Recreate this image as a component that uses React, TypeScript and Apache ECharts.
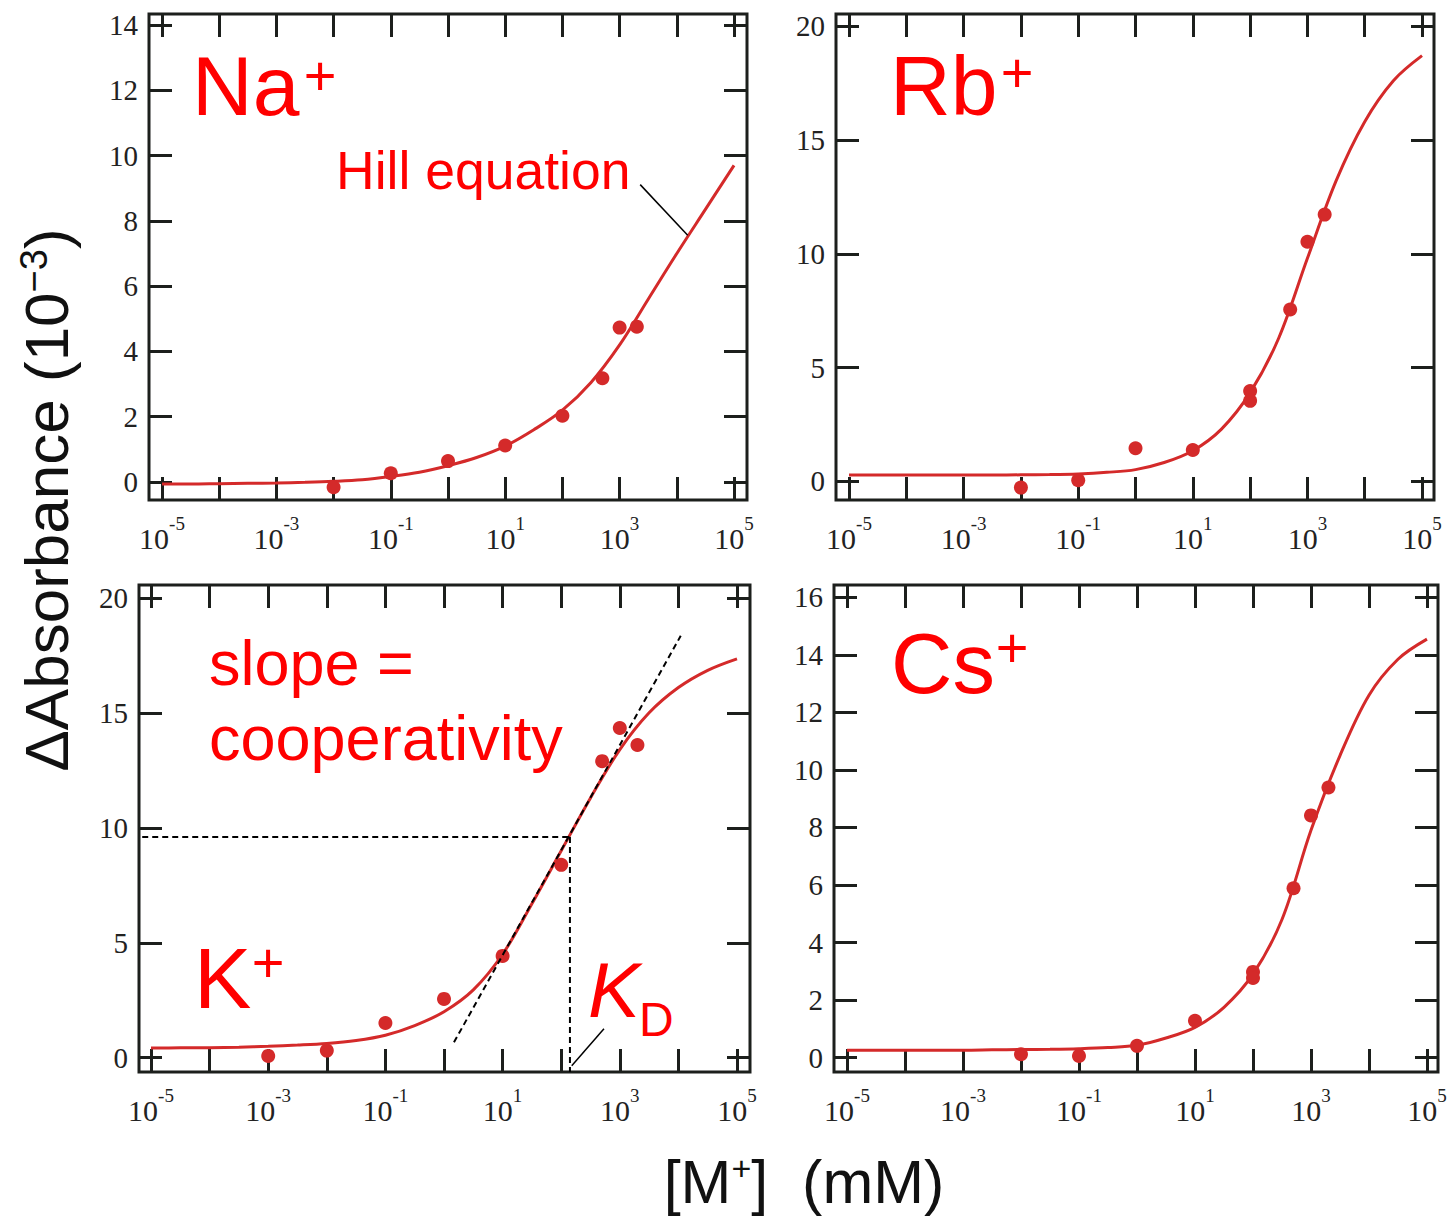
import React, { useEffect, useRef } from "react";
import * as echarts from "echarts";

// ---------- data (x values in mM; curve sampled at log10 positions) ----------
const CURVE_LOG_X = [-5, -4.5, -4, -3.5, -3, -2.5, -2, -1.5, -1, -0.5, 0, 0.5, 1, 1.5, 2, 2.5, 3, 3.5, 4, 4.5, 5];

const NA_CONC = [0.01, 0.1, 1, 10, 100, 500, 1000, 2000];
const NA_VALUES = [-0.16, 0.27, 0.64, 1.12, 2.03, 3.18, 4.73, 4.76];
const NA_CURVE = [-0.06, -0.06, -0.05, -0.04, -0.03, -0.01, 0.02, 0.07, 0.17, 0.3, 0.5, 0.75, 1.1, 1.6, 2.2, 3.05, 4.2, 5.6, 7.0, 8.35, 9.7];

const RB_CONC = [0.01, 0.1, 1, 10, 100, 100, 500, 1000, 2000];
const RB_VALUES = [-0.27, 0.05, 1.46, 1.38, 3.97, 3.54, 7.55, 10.53, 11.72];
const RB_CURVE = [0.28, 0.28, 0.28, 0.28, 0.28, 0.28, 0.29, 0.3, 0.33, 0.4, 0.52, 0.83, 1.35, 2.3, 3.9, 6.3, 9.8, 13.2, 15.8, 17.6, 18.7];

const K_CONC = [0.001, 0.01, 0.1, 1, 10, 100, 500, 1000, 2000];
const K_VALUES = [0.08, 0.31, 1.51, 2.56, 4.43, 8.39, 12.9, 14.34, 13.6];
const K_CURVE = [0.42, 0.43, 0.44, 0.46, 0.5, 0.55, 0.62, 0.75, 0.98, 1.4, 2.0, 2.95, 4.5, 6.7, 9.0, 11.3, 13.4, 15.0, 16.1, 16.85, 17.35];

const CS_CONC = [0.01, 0.1, 1, 10, 100, 100, 500, 1000, 2000];
const CS_VALUES = [0.12, 0.06, 0.41, 1.28, 2.98, 2.77, 5.89, 8.42, 9.39];
const CS_CURVE = [0.26, 0.26, 0.26, 0.26, 0.26, 0.27, 0.28, 0.29, 0.31, 0.35, 0.43, 0.68, 1.05, 1.75, 2.9, 4.8, 7.9, 10.5, 12.6, 13.85, 14.55];

// K+ construction lines
const K_KD = 141; // mM
const K_HALF = 9.6;
const K_HLINE_START_LOGX = -5.15;
const K_TANGENT_LOGX = [0.17, 4.04];
const K_TANGENT_Y = [0.67, 18.35];
const KD_LEADER_LOGX = [2.73, 2.18];
const KD_LEADER_Y = [1.26, -0.35];
const NA_LEADER_LOGX = [3.36, 4.19];
const NA_LEADER_Y = [9.11, 7.56];

// ticks
const X_TICKS = [-5, -4, -3, -2, -1, 0, 1, 2, 3, 4, 5];
const X_LABELS = [-5, -3, -1, 1, 3, 5];
const NA_Y_TICKS = [0, 2, 4, 6, 8, 10, 12, 14];
const RB_Y_TICKS = [0, 5, 10, 15, 20];
const K_Y_TICKS = [0, 5, 10, 15, 20];
const CS_Y_TICKS = [0, 2, 4, 6, 8, 10, 12, 14, 16];

// ---------- styles ----------
const FRAME = "#1c1f1c";
const RED_MARK = "#d42a2a";
const RED_TEXT = "#ff0000";
const SANS = "'Liberation Sans', Arial, sans-serif";
const SERIF = "'Liberation Serif', 'Times New Roman', serif";

const PANELS = [
  { grid: { left: 149, top: 14, width: 598, height: 486 }, xMin: -5.227, xMax: 5.227, yMin: -0.551, yMax: 14.337, yTicks: NA_Y_TICKS, conc: NA_CONC, vals: NA_VALUES, curve: NA_CURVE },
  { grid: { left: 836, top: 14, width: 598, height: 486 }, xMin: -5.227, xMax: 5.209, yMin: -0.815, yMax: 20.53, yTicks: RB_Y_TICKS, conc: RB_CONC, vals: RB_VALUES, curve: RB_CURVE },
  { grid: { left: 139, top: 585, width: 611, height: 487 }, xMin: -5.205, xMax: 5.222, yMin: -0.62, yMax: 20.56, yTicks: K_Y_TICKS, conc: K_CONC, vals: K_VALUES, curve: K_CURVE },
  { grid: { left: 834, top: 585, width: 604, height: 487 }, xMin: -5.224, xMax: 5.19, yMin: -0.5, yMax: 16.43, yTicks: CS_Y_TICKS, conc: CS_CONC, vals: CS_VALUES, curve: CS_CURVE },
];

function buildOption() {
  const grids: any[] = [];
  const xAxes: any[] = [];
  const yAxes: any[] = [];
  const series: any[] = [];

  const tick = (vals: number[]) => ({
    show: true,
    inside: true,
    length: 23,
    customValues: vals,
    lineStyle: { color: FRAME, width: 3 },
  });

  PANELS.forEach((p, i) => {
    grids.push({ ...p.grid, show: true, borderColor: FRAME, borderWidth: 3, backgroundColor: "transparent", containLabel: false });
    const common = { type: "value", gridIndex: i, min: p.xMin, max: p.xMax, axisLine: { show: false, onZero: false }, splitLine: { show: false } };
    xAxes.push({
      ...common,
      position: "bottom",
      axisTick: tick(X_TICKS),
      axisLabel: {
        customValues: X_LABELS,
        margin: 14,
        formatter: (v: number) => `{b|10}{s|${v}}`,
        rich: {
          b: { fontFamily: SERIF, fontSize: 30, color: "#222", padding: [9, 0, 0, 0] },
          s: { fontFamily: SERIF, fontSize: 19, color: "#222", verticalAlign: "top" },
        },
      },
    });
    xAxes.push({ ...common, position: "top", axisTick: tick(X_TICKS), axisLabel: { show: false } });
    const ycommon = { type: "value", gridIndex: i, min: p.yMin, max: p.yMax, axisLine: { show: false, onZero: false }, splitLine: { show: false } };
    yAxes.push({
      ...ycommon,
      position: "left",
      axisTick: tick(p.yTicks),
      axisLabel: { customValues: p.yTicks, margin: 11, fontFamily: SERIF, fontSize: 29, color: "#222" },
    });
    yAxes.push({ ...ycommon, position: "right", axisTick: tick(p.yTicks), axisLabel: { show: false } });

    series.push({
      type: "line",
      xAxisIndex: 2 * i,
      yAxisIndex: 2 * i,
      data: CURVE_LOG_X.map((x, j) => [x, p.curve[j]]),
      smooth: 0.35,
      symbol: "none",
      showSymbol: false,
      lineStyle: { color: RED_MARK, width: 3 },
      z: 3,
      silent: true,
    });
    series.push({
      type: "scatter",
      xAxisIndex: 2 * i,
      yAxisIndex: 2 * i,
      data: p.conc.map((c, j) => [Math.log10(c), p.vals[j]]),
      symbolSize: 14,
      itemStyle: { color: RED_MARK, opacity: 1 },
      z: 4,
      silent: true,
    });
  });

  const annotLine = (gi: number, data: number[][], dashed: boolean, width: number) => ({
    type: "line",
    xAxisIndex: 2 * gi,
    yAxisIndex: 2 * gi,
    data,
    symbol: "none",
    showSymbol: false,
    silent: true,
    z: 6,
    lineStyle: { color: "#000", width, type: dashed ? [6, 4] : "solid" },
  });

  const kdLog = Math.log10(K_KD);
  series.push(annotLine(0, NA_LEADER_LOGX.map((x, j) => [x, NA_LEADER_Y[j]]), false, 1.5));
  series.push(annotLine(2, [[K_HLINE_START_LOGX, K_HALF], [kdLog, K_HALF]], true, 2));
  series.push(annotLine(2, [[kdLog, K_HALF], [kdLog, PANELS[2].yMin]], true, 2));
  series.push(annotLine(2, K_TANGENT_LOGX.map((x, j) => [x, K_TANGENT_Y[j]]), true, 2));
  series.push(annotLine(2, KD_LEADER_LOGX.map((x, j) => [x, KD_LEADER_Y[j]]), false, 1.5));

  const txt = (text: string, x: number, y: number, size: number, extra: any = {}) => ({
    type: "text",
    x,
    y,
    z: 100,
    silent: true,
    style: { text, fill: RED_TEXT, fontFamily: SANS, fontSize: size, align: "left", verticalAlign: "middle", ...extra },
  });

  const graphic: any[] = [
    txt("Na", 192, 86, 84),
    txt("+", 320, 75, 56, { align: "center" }),
    txt("Rb", 890, 86, 84),
    txt("+", 1017, 72, 56, { align: "center" }),
    txt("K", 194, 978, 86),
    txt("+", 268, 962, 56, { align: "center" }),
    txt("Cs", 891, 663, 85),
    txt("+", 1012, 647, 56, { align: "center" }),
    txt("Hill equation", 336, 170, 53.5),
    txt("slope =", 209, 663, 63),
    txt("cooperativity", 209, 738, 63),
    txt("K", 588, 990, 78, { fontStyle: "italic" }),
    txt("D", 639, 1019, 48),
    {
      type: "text",
      x: 46,
      y: 500,
      rotation: Math.PI / 2,
      z: 100,
      silent: true,
      style: {
        text: "{a|\u0394Absorbance (10}{s|\u22123}{a|)}",
        align: "center",
        verticalAlign: "middle",
        rich: {
          a: { fontFamily: SANS, fontSize: 62, fill: "#111" },
          s: { fontFamily: SANS, fontSize: 38, fill: "#111", verticalAlign: "top" },
        },
      },
    },
    {
      type: "text",
      x: 804,
      y: 1182,
      z: 100,
      silent: true,
      style: {
        text: "{a|[M}{s|+}{a|]  (mM)}",
        align: "center",
        verticalAlign: "middle",
        rich: {
          a: { fontFamily: SANS, fontSize: 61, lineHeight: 62, fill: "#111" },
          s: { fontFamily: SANS, fontSize: 34, lineHeight: 34, fill: "#111", verticalAlign: "top" },
        },
      },
    },
  ];

  return {
    animation: false,
    backgroundColor: "#ffffff",
    grid: grids,
    xAxis: xAxes,
    yAxis: yAxes,
    series,
    graphic,
  };
}

export default function App() {
  const ref = useRef<HTMLDivElement>(null);
  useEffect(() => {
    if (!ref.current) return;
    const chart = echarts.init(ref.current, undefined, { renderer: "svg" });
    chart.setOption(buildOption() as any);
    return () => chart.dispose();
  }, []);
  return (
    <div
      ref={ref}
      style={{ position: "absolute", left: 0, top: 0, width: 1456, height: 1217, background: "#fff" }}
    />
  );
}
